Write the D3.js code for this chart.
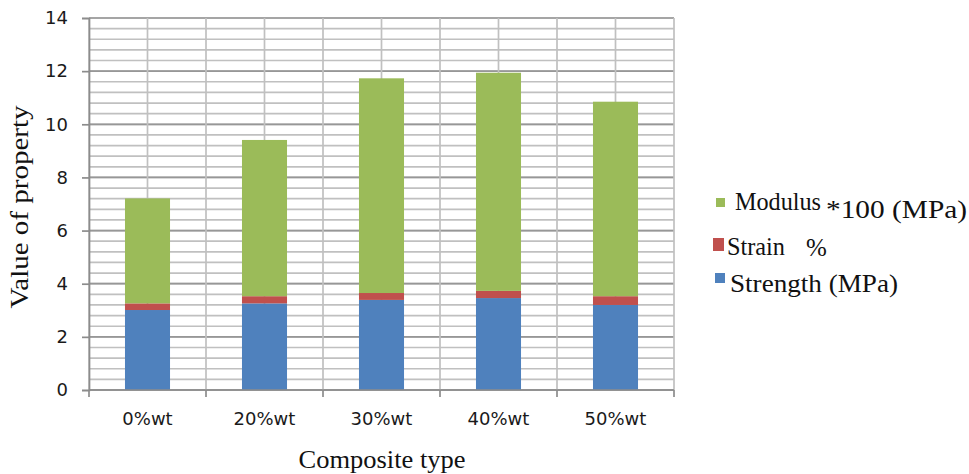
<!DOCTYPE html>
<html>
<head>
<meta charset="utf-8">
<script src="https://cdn.jsdelivr.net/npm/d3@7"></script>
<style>
  html, body { margin: 0; padding: 0; background: #fff; }
  svg { display: block; }
</style>
</head>
<body>
<svg id="chart" width="969" height="474"></svg>
<script>
// Composite types along the x axis
const categories = ["0%wt", "20%wt", "30%wt", "40%wt", "50%wt"];
// Stacked series, bottom to top
const strength = [3.01, 3.26, 3.39, 3.46, 3.20];
const strain   = [0.25, 0.27, 0.26, 0.27, 0.33];
const modulus  = [3.95, 5.88, 8.08, 8.21, 7.32];
const yTicks = [0, 2, 4, 6, 8, 10, 12, 14];

const colors = ["#4F81BD", "#C0504D", "#9BBB59"];
const SERIF = '"Liberation Serif"';
const SANS = '"DejaVu Sans"';

const svg = d3.select("#chart");
const plot = { left: 89, right: 674, top: 18, bottom: 390 };

const x = d3.scaleBand().domain(categories).range([plot.left, plot.right]).padding(0);
const y = d3.scaleLinear().domain([0, 14]).range([plot.bottom, plot.top]);

// Horizontal grid: light lines every 0.4, darker at labelled values
const minor = d3.range(0, 14.0001, 0.4).map(v => +v.toFixed(1));
svg.append("g").selectAll("line").data(minor).join("line")
  .attr("x1", plot.left).attr("x2", plot.right)
  .attr("y1", d => y(d)).attr("y2", d => y(d))
  .attr("stroke", "#c0c0c0").attr("stroke-width", 1.7);
svg.append("g").selectAll("line").data(yTicks).join("line")
  .attr("x1", plot.left).attr("x2", plot.right)
  .attr("y1", d => y(d)).attr("y2", d => y(d))
  .attr("stroke", "#979797").attr("stroke-width", 1.7);

// Vertical grid at band edges and band centres
const vLines = [];
categories.forEach(c => { vLines.push(x(c)); vLines.push(x(c) + x.bandwidth() / 2); });
vLines.push(plot.right);
svg.append("g").selectAll("line").data(vLines).join("line")
  .attr("x1", d => d).attr("x2", d => d)
  .attr("y1", plot.top).attr("y2", plot.bottom)
  .attr("stroke", "#c0c0c0").attr("stroke-width", 1.7);

// Stacked bars
const rows = categories.map((c, i) => ({ cat: c, s0: strength[i], s1: strain[i], s2: modulus[i] }));
const stack = d3.stack().keys(["s0", "s1", "s2"])(rows);
const barW = x.bandwidth() * 0.385;
svg.append("g").selectAll("g").data(stack).join("g")
  .attr("fill", (d, i) => colors[i])
  .selectAll("rect").data(d => d).join("rect")
  .attr("x", d => x(d.data.cat) + (x.bandwidth() - barW) / 2)
  .attr("width", barW)
  .attr("y", d => y(d[1]))
  .attr("height", d => y(d[0]) - y(d[1]));

// Axes
const yAxis = d3.axisLeft(y).tickValues(yTicks).tickSize(7).tickFormat(d3.format("d"));
const gy = svg.append("g").attr("transform", `translate(${plot.left},0)`).call(yAxis)
  .attr("font-family", null).attr("font-size", null);
gy.select(".domain").attr("stroke", "#8c8c8c").attr("stroke-width", 1.7);
gy.selectAll(".tick line").attr("stroke", "#8c8c8c").attr("stroke-width", 1.7);
gy.selectAll(".tick text").attr("x", -21)
  .style("font-family", SANS).style("font-size", "18px").attr("fill", "#1a1a1a");

const edges = categories.map(c => x(c)).concat([plot.right]);
const gx = svg.append("g");
gx.append("line").attr("x1", plot.left).attr("x2", plot.right)
  .attr("y1", plot.bottom).attr("y2", plot.bottom)
  .attr("stroke", "#8c8c8c").attr("stroke-width", 1.7);
gx.selectAll("line.tk").data(edges).join("line").attr("class", "tk")
  .attr("x1", d => d).attr("x2", d => d)
  .attr("y1", plot.bottom).attr("y2", plot.bottom + 7)
  .attr("stroke", "#8c8c8c").attr("stroke-width", 1.7);
gx.selectAll("text").data(categories).join("text")
  .attr("x", d => x(d) + x.bandwidth() / 2).attr("y", 425)
  .attr("text-anchor", "middle")
  .style("font-family", SANS).style("font-size", "18px").attr("fill", "#1a1a1a")
  .text(d => d);

// Axis titles
svg.append("text")
  .attr("x", 382).attr("y", 468).attr("text-anchor", "middle")
  .style("font-family", SERIF).style("font-size", "26px").attr("fill", "#111")
  .attr("textLength", 167).attr("lengthAdjust", "spacingAndGlyphs")
  .text("Composite type");
svg.append("text")
  .attr("transform", "translate(28,207) rotate(-90)")
  .attr("text-anchor", "middle")
  .style("font-family", SERIF).style("font-size", "25px").attr("fill", "#111")
  .attr("textLength", 203).attr("lengthAdjust", "spacingAndGlyphs")
  .text("Value of property");

// Legend
const leg = svg.append("g").attr("fill", "#111");
const legText = (tx, ty, len, s) => {
  const t = leg.append("text").attr("x", tx).attr("y", ty)
    .style("font-family", SERIF).style("font-size", "25px").text(s);
  if (len) t.attr("textLength", len).attr("lengthAdjust", "spacingAndGlyphs");
};
leg.append("rect").attr("x", 716).attr("y", 198).attr("width", 9).attr("height", 9).attr("fill", colors[2]);
legText(735, 210, 86, "Modulus");
legText(826, 218, 141, "*100 (MPa)");
leg.append("rect").attr("x", 713).attr("y", 238).attr("width", 11).attr("height", 13).attr("fill", colors[1]);
legText(727, 255, 58, "Strain");
legText(806, 256, null, "%");
leg.append("rect").attr("x", 715).attr("y", 273).attr("width", 10).attr("height", 10).attr("fill", colors[0]);
legText(730, 292, 168, "Strength (MPa)");
</script>
</body>
</html>
